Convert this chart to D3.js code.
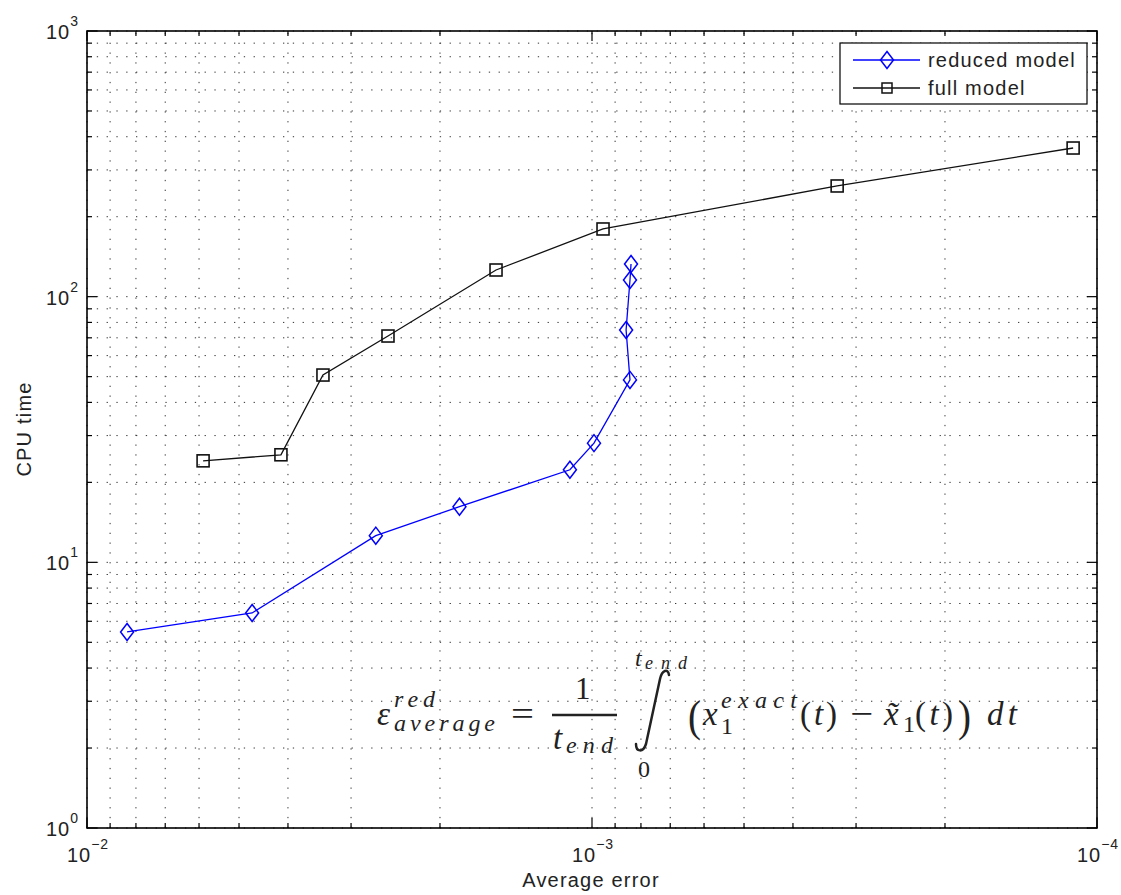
<!DOCTYPE html>
<html>
<head>
<meta charset="utf-8">
<script src="https://cdn.jsdelivr.net/npm/d3@7"></script>
<style>
  body { margin: 0; background: #fff; }
  text { font-family: "Liberation Sans", Arial, sans-serif; }
</style>
</head>
<body>
<div id="chart"></div>
<script>
// values
const reducedErr = [8.33e-3, 4.71e-3, 2.68e-3, 1.83e-3, 1.106e-3, 9.91e-4, 8.41e-4, 8.56e-4, 8.41e-4, 8.37e-4]
const reducedCpu = [5.47, 6.45, 12.6, 16.2, 22.3, 28.1, 48.6, 74.9, 115.6, 132.8]
const fullErr = [5.89e-3, 4.13e-3, 3.41e-3, 2.535e-3, 1.549e-3, 9.51e-4, 3.27e-4, 1.115e-4]
const fullCpu = [24.1, 25.4, 50.7, 71.1, 126, 179.8, 261, 362.7]
const seriesNames = ["reduced model", "full model"]
const xTickExp = [-2, -3, -4]
const yTickExp = [0, 1, 2, 3]
const xLabel = "Average error"
const yLabel = "CPU time"

let W = 1121, H = 895
let pLeft = 87, pRight = 1097, pTop = 31, pBottom = 828

let svg = d3.select("#chart").append("svg")
    .attr("width", W)
    .attr("height", H)

let x = d3.scaleLog().domain([1e-2, 1e-4]).range([pLeft, pRight])
let y = d3.scaleLog().domain([1, 1000]).range([pBottom, pTop])

// all 1..9 multiples inside each domain
let logValues = (lo, hi) => {
    let out = []
    for (let e = lo; e < hi; e++)
        for (let k = 1; k <= 9; k++) out.push(k * Math.pow(10, e))
    out.push(Math.pow(10, hi))
    return out
}
let xVals = logValues(-4, -2)
let yVals = logValues(0, 3)
let isMajor = v => Math.abs(Math.log10(v) - Math.round(Math.log10(v))) < 1e-9

// dotted grid
let grid = svg.append("g")
    .attr("stroke", "#333")
    .attr("stroke-width", 1)
    .attr("stroke-dasharray", "1.3,8.5")
grid.selectAll(".gx").data(xVals).enter().append("line")
    .attr("x1", d => x(d)).attr("x2", d => x(d))
    .attr("y1", pBottom).attr("y2", pTop)
grid.selectAll(".gy").data(yVals).enter().append("line")
    .attr("y1", d => y(d)).attr("y2", d => y(d))
    .attr("x1", pLeft).attr("x2", pRight)

// ticks on all four sides, pointing inward
let ticks = svg.append("g").attr("stroke", "#000").attr("stroke-width", 1.2)
let tl = d => isMajor(d) ? 10 : 5
ticks.selectAll(".tb").data(xVals).enter().append("line")
    .attr("x1", d => x(d)).attr("x2", d => x(d))
    .attr("y1", pBottom).attr("y2", d => pBottom - tl(d))
ticks.selectAll(".tt").data(xVals).enter().append("line")
    .attr("x1", d => x(d)).attr("x2", d => x(d))
    .attr("y1", pTop).attr("y2", d => pTop + tl(d))
ticks.selectAll(".tlft").data(yVals).enter().append("line")
    .attr("y1", d => y(d)).attr("y2", d => y(d))
    .attr("x1", pLeft).attr("x2", d => pLeft + tl(d))
ticks.selectAll(".trgt").data(yVals).enter().append("line")
    .attr("y1", d => y(d)).attr("y2", d => y(d))
    .attr("x1", pRight).attr("x2", d => pRight - tl(d))

// box
svg.append("rect")
    .attr("x", pLeft).attr("y", pTop)
    .attr("width", pRight - pLeft).attr("height", pBottom - pTop)
    .attr("fill", "none").attr("stroke", "#000").attr("stroke-width", 1.6)

// tick labels 10^n
let powLabel = (sel, e) => {
    sel.append("tspan").text("10")
    sel.append("tspan").text(String(e).replace("-", "\u2212"))
        .attr("font-size", 14).attr("dy", -13)
}
xTickExp.forEach(e => {
    let t = svg.append("text")
        .attr("x", x(Math.pow(10, e)) + 1)
        .attr("y", 862)
        .attr("text-anchor", "middle")
        .attr("font-size", 20)
        .attr("letter-spacing", 1)
        .attr("fill", "#222")
    powLabel(t, e)
})
yTickExp.forEach(e => {
    let t = svg.append("text")
        .attr("x", 79)
        .attr("y", y(Math.pow(10, e)) + 8)
        .attr("text-anchor", "end")
        .attr("font-size", 20)
        .attr("letter-spacing", 1)
        .attr("fill", "#222")
    powLabel(t, e)
})

// axis titles
svg.append("text")
    .attr("x", 591).attr("y", 887)
    .attr("text-anchor", "middle")
    .attr("font-size", 20)
    .attr("letter-spacing", 1.2)
    .attr("fill", "#222")
    .text(xLabel)
svg.append("text")
    .attr("transform", "translate(31, 429) rotate(-90)")
    .attr("text-anchor", "middle")
    .attr("font-size", 20)
    .attr("letter-spacing", 1.2)
    .attr("fill", "#222")
    .text(yLabel)

// series
let reduced = reducedErr.map((e, i) => ({ err: e, cpu: reducedCpu[i] }))
let full = fullErr.map((e, i) => ({ err: e, cpu: fullCpu[i] }))

let line = d3.line()
    .x(d => x(d.err))
    .y(d => y(d.cpu))

let diamond = (cx, cy) => `M${cx},${cy - 8.5}L${cx + 6.5},${cy}L${cx},${cy + 8.5}L${cx - 6.5},${cy}Z`

svg.append("path")
    .datum(full)
    .attr("fill", "none")
    .attr("stroke", "#111")
    .attr("stroke-width", 1.3)
    .attr("d", line)
svg.selectAll(".sq").data(full).enter().append("rect")
    .attr("x", d => x(d.err) - 6).attr("y", d => y(d.cpu) - 6)
    .attr("width", 12).attr("height", 12)
    .attr("fill", "none").attr("stroke", "#111").attr("stroke-width", 1.6)

svg.append("path")
    .datum(reduced)
    .attr("fill", "none")
    .attr("stroke", "#0000ff")
    .attr("stroke-width", 1.3)
    .attr("d", line)
svg.selectAll(".dm").data(reduced).enter().append("path")
    .attr("d", d => diamond(x(d.err), y(d.cpu)))
    .attr("fill", "none").attr("stroke", "#0000ff").attr("stroke-width", 1.5)

// legend
let lg = svg.append("g")
lg.append("rect")
    .attr("x", 840).attr("y", 43).attr("width", 247).attr("height", 61)
    .attr("fill", "#fff").attr("stroke", "#000").attr("stroke-width", 1.2)
let rows = [
    { name: seriesNames[0], color: "#0000ff", y: 60, mark: "d" },
    { name: seriesNames[1], color: "#111", y: 88, mark: "s" }
]
rows.forEach(r => {
    lg.append("line")
        .attr("x1", 853).attr("x2", 920).attr("y1", r.y).attr("y2", r.y)
        .attr("stroke", r.color).attr("stroke-width", 1.3)
    if (r.mark == "d") {
        lg.append("path").attr("d", diamond(887, r.y))
            .attr("fill", "none").attr("stroke", r.color).attr("stroke-width", 1.5)
    } else {
        lg.append("rect").attr("x", 882).attr("y", r.y - 5).attr("width", 10).attr("height", 10)
            .attr("fill", "none").attr("stroke", r.color).attr("stroke-width", 1.5)
    }
    lg.append("text")
        .attr("x", 928).attr("y", r.y + 7)
        .attr("font-size", 20)
        .attr("letter-spacing", 1.2)
        .attr("fill", "#222")
        .text(r.name)
})

// formula
let fm = svg.append("g").attr("fill", "#222")
let put = (px, py, parts, size, len, adj) => {
    let t = fm.append("text")
        .attr("x", px).attr("y", py)
        .attr("font-size", size)
        .style("font-family", "'Liberation Serif', 'DejaVu Serif', serif")
    if (len) t.attr("textLength", len).attr("lengthAdjust", adj || "spacing")
    parts.forEach(p => {
        t.append("tspan").text(p[0]).attr("font-style", p[1] ? "italic" : "normal")
    })
}
let base = 725
put(377, base, [["\u03b5", 1]], 33)
put(394, 707, [["red", 1]], 24, 41)
put(394, 731, [["average", 1]], 24, 101)
put(511, base, [["=", 0]], 34, 23, "spacingAndGlyphs")
put(575, 699, [["1", 0]], 31)
fm.append("line").attr("x1", 552).attr("x2", 617).attr("y1", 715).attr("y2", 715)
    .attr("stroke", "#222").attr("stroke-width", 2.4)
put(553, 749, [["t", 1]], 33)
put(566, 753, [["end", 1]], 24, 47)
fm.append("path")
    .attr("d", "M636,744 C636,752 643,753 646,744 L660,679 C662,670 668,668 669,675")
    .attr("fill", "none").attr("stroke", "#222").attr("stroke-width", 2.5)
    .attr("stroke-linecap", "round")
put(635, 666, [["t", 1]], 24)
put(645, 669, [["end", 1]], 18, 42)
put(638, 777, [["0", 0]], 24)
put(688, 731, [["(", 0]], 44, 13, "spacingAndGlyphs")
put(703, base, [["x", 1]], 33)
put(721, 708, [["exact", 1]], 24, 76)
put(721, 734, [["1", 0]], 24)
put(800, base, [["(", 0], ["t", 1], [")", 0]], 33, 37)
put(850, base, [["\u2212", 0]], 34, 23, "spacingAndGlyphs")
put(884, base, [["x\u0303", 1]], 33)
put(903, 732, [["1", 0]], 24)
put(915, base, [["(", 0], ["t", 1], [")", 0]], 33, 38)
put(958, 731, [[")", 0]], 44, 13, "spacingAndGlyphs")
put(987, base, [["dt", 1]], 33, 30)
</script>
</body>
</html>
